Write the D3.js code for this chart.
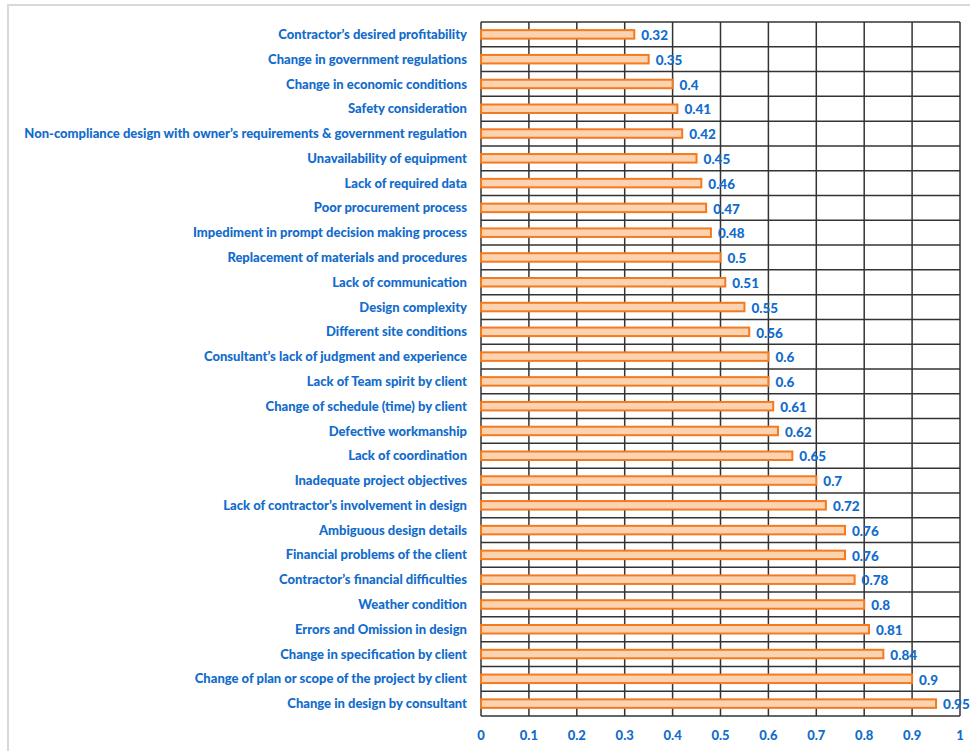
<!DOCTYPE html>
<html>
<head>
<meta charset="utf-8">
<script src="https://cdn.jsdelivr.net/npm/d3@7"></script>
<style>
  html, body { margin: 0; padding: 0; background: #fff; }
  svg { display: block; }
</style>
</head>
<body>
<svg id="chart" width="970" height="751"></svg>
<script>
// Delay factors and their relative importance index
const factors = [
  "Contractor\u2019s desired profitability",
  "Change in government regulations",
  "Change in economic conditions",
  "Safety consideration",
  "Non-compliance design with owner\u2019s requirements & government regulation",
  "Unavailability of equipment",
  "Lack of required data",
  "Poor procurement process",
  "Impediment in prompt decision making process",
  "Replacement of materials and procedures",
  "Lack of communication",
  "Design complexity",
  "Different site conditions",
  "Consultant\u2019s lack of judgment and experience",
  "Lack of Team spirit by client",
  "Change of schedule (time) by client",
  "Defective workmanship",
  "Lack of coordination",
  "Inadequate project objectives",
  "Lack of contractor\u2019s involvement in design",
  "Ambiguous design details",
  "Financial problems of the client",
  "Contractor\u2019s financial difficulties",
  "Weather condition",
  "Errors and Omission in design",
  "Change in specification by client",
  "Change of plan or scope of the project by client",
  "Change in design by consultant"
];
const scores = [
  0.32, 0.35, 0.4, 0.41, 0.42, 0.45, 0.46, 0.47, 0.48, 0.5,
  0.51, 0.55, 0.56, 0.6, 0.6, 0.61, 0.62, 0.65, 0.7, 0.72,
  0.76, 0.76, 0.78, 0.8, 0.81, 0.84, 0.9, 0.95
];
const xTicks = [0, 0.1, 0.2, 0.3, 0.4, 0.5, 0.6, 0.7, 0.8, 0.9, 1];

const blue = "#126ccc";
const font = "Lato, 'Open Sans', sans-serif";

const svg = d3.select("#chart");

// outer frame
svg.append("rect")
  .attr("x", 8).attr("y", 5)
  .attr("width", 980).attr("height", 760)
  .attr("fill", "none")
  .attr("stroke", "#d9d9d9")
  .attr("stroke-width", 2);

const plotLeft = 481, plotRight = 960, plotTop = 22, plotBottom = 716;

const x = d3.scaleLinear().domain([0, 1]).range([plotLeft, plotRight]);
const y = d3.scaleBand().domain(factors).range([plotTop, plotBottom]).paddingInner(0).paddingOuter(0);

// vertical grid lines
svg.append("g").selectAll("line").data(xTicks).join("line")
  .attr("x1", d => x(d)).attr("x2", d => x(d))
  .attr("y1", plotTop).attr("y2", plotBottom)
  .attr("stroke", "#333").attr("stroke-width", 1.5);

// horizontal row separators
const boundaries = factors.map(f => y(f)).concat([plotBottom]);
svg.append("g").selectAll("line").data(boundaries).join("line")
  .attr("x1", plotLeft).attr("x2", plotRight)
  .attr("y1", d => d).attr("y2", d => d)
  .attr("stroke", "#333").attr("stroke-width", 1.5);

// bars
const barH = 8.5;
svg.append("g").selectAll("rect").data(factors).join("rect")
  .attr("x", x(0))
  .attr("y", (d) => y(d) + y.bandwidth() / 2 - barH / 2)
  .attr("width", (d, i) => x(scores[i]) - x(0))
  .attr("height", barH)
  .attr("fill", "#fcd3b0")
  .attr("stroke", "#f47a1f")
  .attr("stroke-width", 2);

// value labels
svg.append("g").selectAll("text").data(factors).join("text")
  .attr("x", (d, i) => x(scores[i]) + 7)
  .attr("y", d => y(d) + y.bandwidth() / 2 + 1)
  .attr("dy", "0.35em")
  .attr("fill", blue)
  .attr("font-family", font)
  .attr("font-weight", 900)
  .attr("font-size", 13.5)
  .text((d, i) => String(scores[i]));

// category labels
svg.append("g").selectAll("text").data(factors).join("text")
  .attr("x", 467)
  .attr("y", d => y(d) + y.bandwidth() / 2)
  .attr("dy", "0.35em")
  .attr("text-anchor", "end")
  .attr("fill", blue)
  .attr("font-family", font)
  .attr("font-weight", 900)
  .attr("font-size", 13)
  .text(d => d);

// x axis tick labels
svg.append("g").selectAll("text").data(xTicks).join("text")
  .attr("x", d => x(d))
  .attr("y", 735)
  .attr("dy", "0.35em")
  .attr("text-anchor", "middle")
  .attr("fill", blue)
  .attr("font-family", font)
  .attr("font-weight", 900)
  .attr("font-size", 13)
  .text(d => String(d));
</script>
</body>
</html>
